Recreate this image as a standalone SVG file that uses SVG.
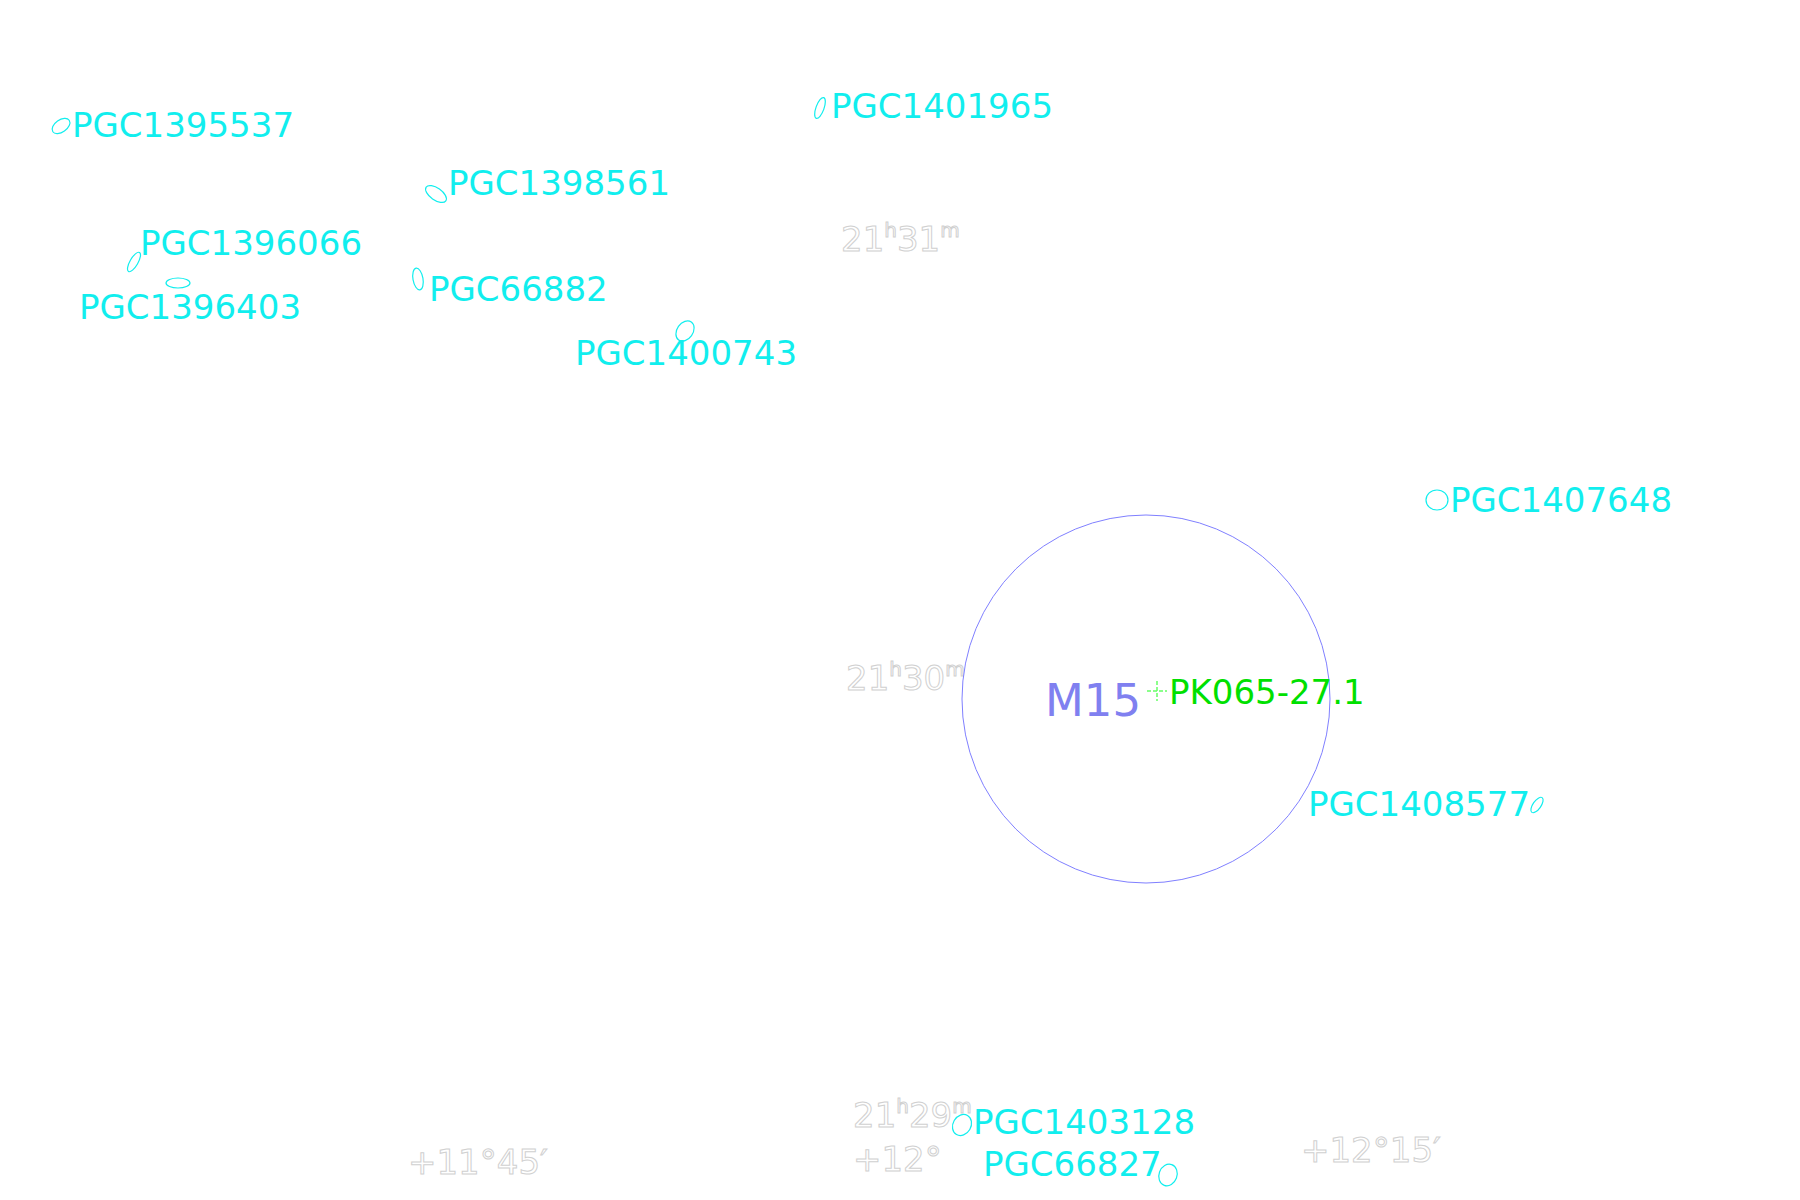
<svg xmlns="http://www.w3.org/2000/svg" width="1800" height="1200" viewBox="0 0 1800 1200">
<style>
.g{fill:#11eeee;font-family:"DejaVu Sans",sans-serif;font-size:34px}
.e{fill:none;stroke:#11eeee;stroke-width:1.2}
.ax{fill:#fff;stroke:#d0d0d0;stroke-width:1;font-family:"DejaVu Sans",sans-serif;font-size:34px}
.sup{font-size:20px}
</style>
<rect width="1800" height="1200" fill="#fff"/>
<g id="grid-labels">
<text class="ax" x="841" y="251">21<tspan class="sup" dy="-14">h</tspan><tspan dy="14">31</tspan><tspan class="sup" dy="-14">m</tspan></text>
<text class="ax" x="846" y="690">21<tspan class="sup" dy="-14">h</tspan><tspan dy="14">30</tspan><tspan class="sup" dy="-14">m</tspan></text>
<text class="ax" x="853" y="1127">21<tspan class="sup" dy="-14">h</tspan><tspan dy="14">29</tspan><tspan class="sup" dy="-14">m</tspan></text>
<text class="ax" x="853" y="1171">+12°</text>
<text class="ax" x="408" y="1174">+11°45′</text>
<text class="ax" x="1301" y="1162">+12°15′</text>
</g>
<g id="M15">
<circle cx="1146" cy="699" r="184" fill="none" stroke="#8080ff" stroke-width="1"/>
<text x="1045" y="716" fill="#8080f0" font-family="DejaVu Sans,sans-serif" font-size="45">M15</text>
</g>
<g id="PK065-27.1">
<path d="M1147 691h20M1157 681v20" stroke="#66ff66" stroke-width="1.5" stroke-dasharray="4,2" fill="none"/>
<text x="1169" y="704" fill="#00e000" font-family="DejaVu Sans,sans-serif" font-size="34">PK065-27.1</text>
</g>
<g id="PGC1395537"><ellipse class="e" cx="61" cy="126" rx="10" ry="6" transform="rotate(-35 61 126)"/><text class="g" x="72" y="137">PGC1395537</text></g>
<g id="PGC1401965"><ellipse class="e" cx="820" cy="108" rx="4" ry="11" transform="rotate(20 820 108)"/><text class="g" x="831" y="118">PGC1401965</text></g>
<g id="PGC1398561"><ellipse class="e" cx="436" cy="194" rx="12" ry="6" transform="rotate(35 436 194)"/><text class="g" x="448" y="195">PGC1398561</text></g>
<g id="PGC1396066"><ellipse class="e" cx="134" cy="262" rx="4" ry="11" transform="rotate(30 134 262)"/><text class="g" x="140" y="255">PGC1396066</text></g>
<g id="PGC1396403"><ellipse class="e" cx="178" cy="283" rx="12" ry="5"/><text class="g" x="79" y="319">PGC1396403</text></g>
<g id="PGC66882"><ellipse class="e" cx="418" cy="279" rx="5" ry="11" transform="rotate(-10 418 279)"/><text class="g" x="429" y="301">PGC66882</text></g>
<g id="PGC1400743"><ellipse class="e" cx="685" cy="331" rx="8" ry="11" transform="rotate(35 685 331)"/><text class="g" x="575" y="365">PGC1400743</text></g>
<g id="PGC1407648"><ellipse class="e" cx="1437" cy="500" rx="11" ry="10"/><text class="g" x="1450" y="512">PGC1407648</text></g>
<g id="PGC1408577"><ellipse class="e" cx="1537" cy="805" rx="4" ry="9" transform="rotate(35 1537 805)"/><text class="g" x="1308" y="816">PGC1408577</text></g>
<g id="PGC1403128"><ellipse class="e" cx="962" cy="1125" rx="9" ry="11" transform="rotate(30 962 1125)"/><text class="g" x="973" y="1134">PGC1403128</text></g>
<g id="PGC66827"><ellipse class="e" cx="1168" cy="1175" rx="9" ry="11" transform="rotate(20 1168 1175)"/><text class="g" x="983" y="1176">PGC66827</text></g>
<g id="connectors"/>
</svg>
